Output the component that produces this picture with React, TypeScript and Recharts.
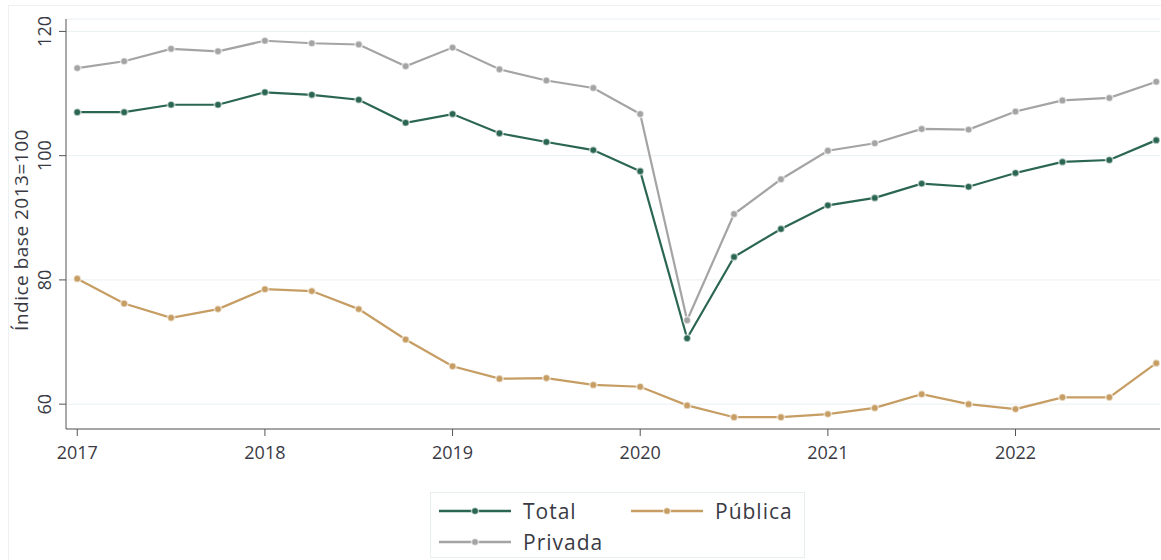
import React from 'react';
import { LineChart, Line, XAxis, YAxis, CartesianGrid } from 'recharts';

// quarters 2017Q1 .. 2022Q4
const quarters = [
  2017, 2017.25, 2017.5, 2017.75,
  2018, 2018.25, 2018.5, 2018.75,
  2019, 2019.25, 2019.5, 2019.75,
  2020, 2020.25, 2020.5, 2020.75,
  2021, 2021.25, 2021.5, 2021.75,
  2022, 2022.25, 2022.5, 2022.75,
];

const total = [
  107.0, 107.0, 108.2, 108.2,
  110.2, 109.8, 109.0, 105.3,
  106.7, 103.6, 102.2, 100.9,
  97.5, 70.6, 83.7, 88.2,
  92.0, 93.2, 95.5, 95.0,
  97.2, 99.0, 99.3, 102.5,
];

const privada = [
  114.1, 115.2, 117.2, 116.8,
  118.5, 118.1, 117.9, 114.4,
  117.4, 113.9, 112.1, 110.9,
  106.7, 73.5, 90.6, 96.2,
  100.8, 102.0, 104.3, 104.2,
  107.1, 108.9, 109.3, 111.9,
];

const publica = [
  80.2, 76.2, 73.9, 75.3,
  78.5, 78.2, 75.3, 70.4,
  66.1, 64.1, 64.2, 63.1,
  62.8, 59.8, 57.9, 57.9,
  58.4, 59.4, 61.6, 60.0,
  59.2, 61.1, 61.1, 66.6,
];

const xTicks = [2017, 2018, 2019, 2020, 2021, 2022];
const yTicks = [60, 80, 100, 120];

const GREEN = '#2b6652';
const GRAY = '#a4a4a4';
const TAN = '#c69d63';
const TEXT = '#3a3a44';
const FONT = '"Open Sans", sans-serif';

const data = quarters.map((q, i) => ({
  q,
  total: total[i],
  privada: privada[i],
  publica: publica[i],
}));

// Stata-style vertical y tick labels
function YTick({ y, payload }: any) {
  const tx = 51;
  return (
    <text
      x={tx}
      y={y}
      transform={`rotate(-90 ${tx} ${y})`}
      textAnchor="middle"
      fontSize={18}
      fontFamily={FONT}
      fill={TEXT}
    >
      {payload.value}
    </text>
  );
}

function YTitle({ viewBox }: any) {
  const cx = 28;
  const cy = viewBox ? viewBox.y + viewBox.height / 2 + 6 : 230;
  return (
    <text
      x={cx}
      y={cy}
      transform={`rotate(-90 ${cx} ${cy})`}
      textAnchor="middle"
      fontSize={19}
      letterSpacing={0.5}
      fontFamily={FONT}
      fill={TEXT}
    >
      Índice base 2013=100
    </text>
  );
}

function LegendItem({ color, label }: { color: string; label: string }) {
  return (
    <div style={{ display: 'flex', alignItems: 'center', height: 30 }}>
      <svg width={84} height={12}>
        <line x1={0} y1={6} x2={72} y2={6} stroke={color} strokeWidth={2.5} />
        <circle cx={36} cy={6} r={3.5} fill={color} stroke="#ffffff" strokeOpacity={0.6} strokeWidth={1.5} />
      </svg>
      <span style={{ fontFamily: FONT, fontSize: 21, letterSpacing: 1, color: TEXT }}>{label}</span>
    </div>
  );
}

function dotStyle(color: string) {
  return { r: 3.6, fill: color, stroke: '#ffffff', strokeOpacity: 0.55, strokeWidth: 1.8 };
}

export default function App() {
  return (
    <div style={{ position: 'absolute', left: 0, top: 0, width: 1161, height: 560, background: '#fff', overflow: 'hidden' }}>
      {/* faint outer frame */}
      <div style={{ position: 'absolute', left: 8, top: 5, width: 1200, height: 600, borderTop: '1px solid #eef1f2', borderLeft: '1px solid #eef1f2' }} />

      <div style={{ position: 'absolute', left: 0, top: 0 }}>
        <LineChart width={1161} height={560} data={data} margin={{ top: 19, right: 1, bottom: 91, left: 0 }}>
          <CartesianGrid horizontal vertical={false} stroke="#e9f0f3" strokeWidth={1} />
          <XAxis
            dataKey="q"
            type="number"
            domain={[2016.94, 2022.77]}
            ticks={xTicks}
            allowDataOverflow
            height={40}
            tickSize={7}
            tickMargin={10}
            stroke="#555"
            tick={{ fontSize: 18, fontFamily: FONT, fill: TEXT }}
            tickFormatter={(v: number) => String(Math.round(v))}
          />
          <YAxis
            type="number"
            domain={[56, 122]}
            ticks={yTicks}
            allowDataOverflow
            width={66}
            tickSize={7}
            stroke="#555"
            tick={<YTick />}
            label={{ content: <YTitle /> }}
          />
          <Line
            type="linear"
            dataKey="publica"
            name="Pública"
            stroke={TAN}
            strokeWidth={2.2}
            dot={dotStyle(TAN)}
            activeDot={false}
            isAnimationActive={false}
          />
          <Line
            type="linear"
            dataKey="privada"
            name="Privada"
            stroke={GRAY}
            strokeWidth={2.2}
            dot={dotStyle(GRAY)}
            activeDot={false}
            isAnimationActive={false}
          />
          <Line
            type="linear"
            dataKey="total"
            name="Total"
            stroke={GREEN}
            strokeWidth={2.2}
            dot={dotStyle(GREEN)}
            activeDot={false}
            isAnimationActive={false}
          />
        </LineChart>
      </div>

      {/* legend */}
      <div
        style={{
          position: 'absolute',
          left: 430,
          top: 492,
          width: 375,
          height: 66,
          border: '1px solid #e8eef0',
          boxSizing: 'border-box',
          padding: '3px 0 0 8px',
          display: 'grid',
          gridTemplateColumns: '192px 170px',
        }}
      >
        <LegendItem color={GREEN} label="Total" />
        <LegendItem color={TAN} label="Pública" />
        <LegendItem color={GRAY} label="Privada" />
      </div>
    </div>
  );
}
